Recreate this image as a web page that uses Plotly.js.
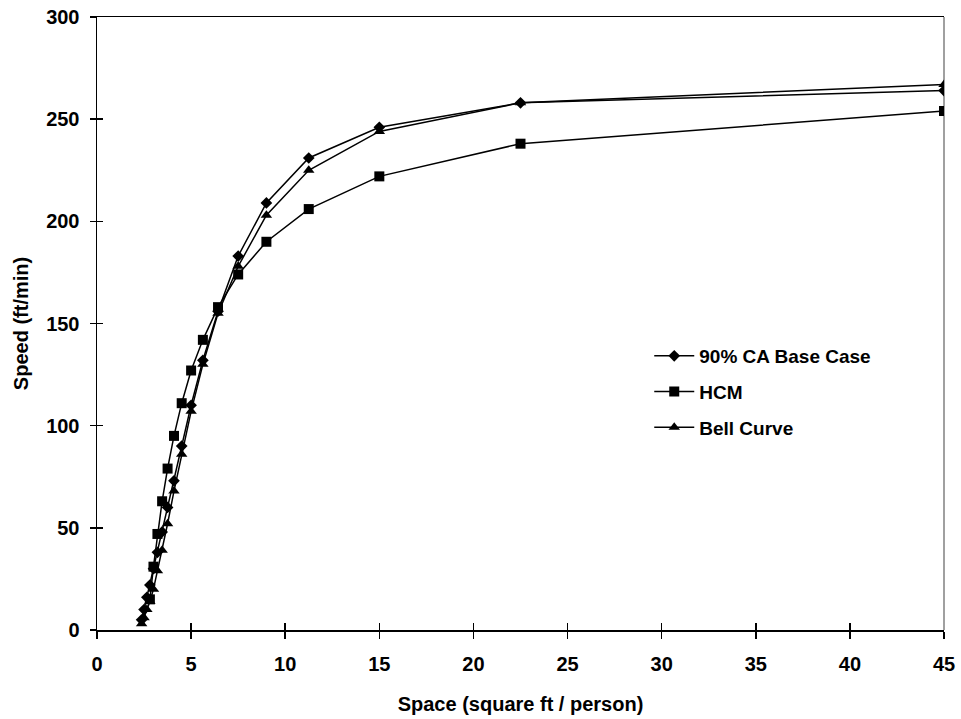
<!DOCTYPE html>
<html>
<head>
<meta charset="utf-8">
<script src="https://cdn.plot.ly/plotly-3.0.1.min.js"></script>
<style>html,body{margin:0;padding:0;background:#fff;}#chart{width:961px;height:719px;}</style>
</head>
<body>
<div id="chart"></div>
<script>
// Space (square ft / person)
var spaceCA   = [45, 22.5, 15, 11.25, 9, 7.5, 6.43, 5.625, 5, 4.5, 4.09, 3.75, 3.46, 3.21, 3.0, 2.81, 2.65, 2.5, 2.37];
var speedCA   = [264, 258, 246, 231, 209, 183, 156, 132, 110, 90, 73, 60, 48, 38, 30, 22, 16, 10, 5];

var spaceHCM  = [45, 22.5, 15, 11.25, 9, 7.5, 6.43, 5.625, 5, 4.5, 4.09, 3.75, 3.46, 3.21, 3.0, 2.81];
var speedHCM  = [254, 238, 222, 206, 190, 174, 158, 142, 127, 111, 95, 79, 63, 47, 31, 15];

var spaceBell = [45, 22.5, 15, 11.25, 9, 7.5, 6.43, 5.625, 5, 4.5, 4.09, 3.75, 3.46, 3.21, 3.0, 2.81, 2.65, 2.5, 2.37];
var speedBell = [267, 258, 244, 225, 203, 178, 155, 130, 107, 86, 68, 52, 39, 29, 20, 14, 10, 6, 3];

var seriesNames = ["90% CA Base Case", "HCM", "Bell Curve"];
var xTickVals = [0, 5, 10, 15, 20, 25, 30, 35, 40, 45];
var yTickVals = [0, 50, 100, 150, 200, 250, 300];

var FONT = "Liberation Sans, Arial, sans-serif";
var lineStyle = {color: "#000000", width: 1.5};

var traces = [
  {x: spaceCA, y: speedCA, name: seriesNames[0], legendgroup: "a", mode: "lines+markers", type: "scatter",
   line: lineStyle, marker: {symbol: "diamond", size: 9, color: "#000000"}},
  {x: spaceHCM, y: speedHCM, name: seriesNames[1], legendgroup: "b", mode: "lines+markers", type: "scatter",
   line: lineStyle, marker: {symbol: "square", size: 10, color: "#000000"}},
  {x: spaceBell, y: speedBell, name: seriesNames[2], legendgroup: "c", mode: "lines+markers", type: "scatter",
   line: lineStyle, marker: {symbol: "triangle-up", size: 10, color: "#000000"}},
  {x: [null], y: [null], xaxis: "x2", yaxis: "y2", showlegend: false, hoverinfo: "skip", mode: "markers", type: "scatter"}
];

var tickFont = {family: FONT, size: 20, color: "#000000", weight: "bold"};
var titleFont = {family: FONT, size: 20, color: "#000000", weight: "bold"};

var layout = {
  width: 961, height: 719,
  margin: {l: 97, r: 17, t: 17, b: 89},
  paper_bgcolor: "#ffffff", plot_bgcolor: "#ffffff",
  font: {family: FONT, color: "#000000"},
  showlegend: true,
  legend: {x: 0.652, y: 0.478, xanchor: "left", yanchor: "top", bgcolor: "rgba(0,0,0,0)",
           traceorder: "grouped", tracegroupgap: 8,
           font: {family: FONT, size: 19, color: "#000000", weight: "bold"}, itemwidth: 40},
  xaxis: {range: [0, 45], tickvals: xTickVals, ticktext: xTickVals.map(String), showgrid: false, zeroline: false,
          showline: true, linecolor: "#000000", linewidth: 1.5, mirror: true,
          ticks: "outside", ticklen: 7, tickwidth: 1.5, tickcolor: "#000000", tickfont: tickFont, ticklabelstandoff: 8,
          title: {text: "Space (square ft / person)", font: titleFont, standoff: 23}},
  yaxis: {range: [0, 300], tickvals: yTickVals, ticktext: yTickVals.map(String), showgrid: false, zeroline: false,
          showline: true, linecolor: "#000000", linewidth: 1.5,
          ticks: "outside", ticklen: 6, tickwidth: 1.5, tickcolor: "#000000", tickfont: tickFont, ticklabelstandoff: 6,
          title: {text: "Speed (ft/min)", font: titleFont, standoff: 12}},
  xaxis2: {range: [0, 45], tickvals: xTickVals, overlaying: "x", anchor: "y2", side: "bottom", showgrid: false, zeroline: false,
           showline: false, showticklabels: false, ticks: "inside", ticklen: 7, tickwidth: 1.5, tickcolor: "#000000"},
  yaxis2: {range: [0, 300], tickvals: yTickVals, overlaying: "y", anchor: "x2", side: "left", showgrid: false, zeroline: false,
           showline: false, showticklabels: false, ticks: "inside", ticklen: 6, tickwidth: 1.5, tickcolor: "#000000"},
  shapes: [
    {type: "line", xref: "paper", yref: "paper", x0: 1, x1: 1, y0: 0, y1: 1, layer: "below",
     line: {color: "#808080", width: 1.5}}
  ]
};

Plotly.newPlot("chart", traces, layout, {staticPlot: true, displayModeBar: false});
</script>
</body>
</html>
